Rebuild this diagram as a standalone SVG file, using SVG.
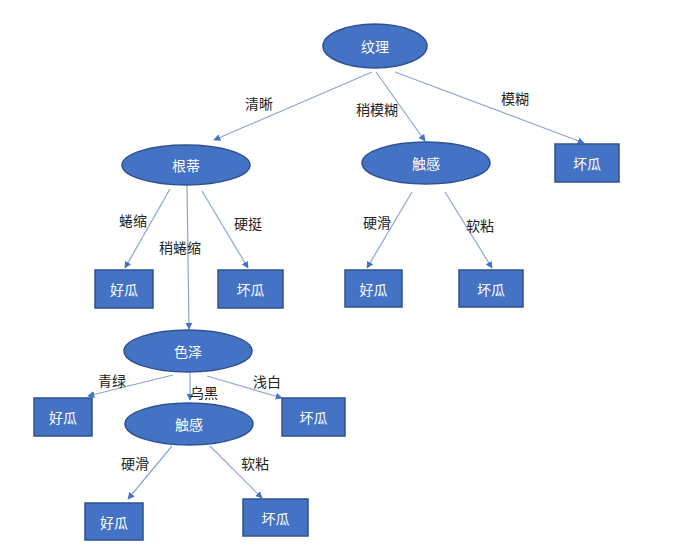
<svg xmlns="http://www.w3.org/2000/svg" width="684" height="550" viewBox="0 0 684 550">
<defs>
<style>
.n{fill:#4472C4;stroke:#2F528F;stroke-width:1.5}
.t{fill:#fff;font-family:"Noto Sans CJK SC","Noto Sans",sans-serif;font-size:14px;text-anchor:middle;dominant-baseline:central}
.l{fill:#222;font-family:"Noto Sans CJK SC","Noto Sans",sans-serif;font-size:14px;text-anchor:middle;dominant-baseline:central}
.e{stroke:#8EA5CF;stroke-width:1.2;fill:none;marker-end:url(#a)}
</style>
<marker id="a" viewBox="0 0 10 10" refX="9" refY="5" markerWidth="7" markerHeight="7" orient="auto" markerUnits="userSpaceOnUse">
<path d="M0,0 L10,5 L0,10 z" fill="#4472C4"/>
</marker>
</defs>
<rect width="684" height="550" fill="#fff"/>
<g id="connectors">
<line class="e" x1="372" y1="72" x2="214" y2="140"/>
<line class="e" x1="376" y1="72" x2="425" y2="141"/>
<line class="e" x1="395" y1="72" x2="584" y2="143"/>
<line class="e" x1="170" y1="189" x2="125" y2="268"/>
<line class="e" x1="187" y1="185" x2="189" y2="329"/>
<line class="e" x1="202" y1="191" x2="248" y2="268"/>
<line class="e" x1="412" y1="192" x2="367" y2="268"/>
<line class="e" x1="445" y1="192" x2="492" y2="268"/>
<line class="e" x1="173" y1="375" x2="88" y2="396"/>
<line class="e" x1="190" y1="373" x2="190" y2="400"/>
<line class="e" x1="207" y1="376" x2="282" y2="398"/>
<line class="e" x1="172" y1="446" x2="128" y2="499"/>
<line class="e" x1="210" y1="446" x2="262" y2="498"/>
</g>
<g id="edge-labels">
<text class="l" x="259" y="103">清晰</text>
<text class="l" x="377" y="109">稍模糊</text>
<text class="l" x="515" y="98">模糊</text>
<text class="l" x="133" y="220">蜷缩</text>
<text class="l" x="180" y="247">稍蜷缩</text>
<text class="l" x="248" y="223">硬挺</text>
<text class="l" x="377" y="222">硬滑</text>
<text class="l" x="480" y="225">软粘</text>
<text class="l" x="112" y="380">青绿</text>
<text class="l" x="204" y="392">乌黑</text>
<text class="l" x="267" y="381">浅白</text>
<text class="l" x="135" y="463">硬滑</text>
<text class="l" x="255" y="463">软粘</text>
</g>
<g id="n-wenli"><ellipse class="n" cx="375" cy="46" rx="52" ry="22"/><text class="t" x="375" y="46">纹理</text></g>
<g id="n-gendi"><ellipse class="n" cx="186" cy="165" rx="64" ry="20"/><text class="t" x="186" y="165">根蒂</text></g>
<g id="n-chugan1"><ellipse class="n" cx="426" cy="163" rx="64" ry="21"/><text class="t" x="426" y="163">触感</text></g>
<g id="n-bad1"><rect class="n" x="555" y="144" width="64" height="38"/><text class="t" x="587" y="163">坏瓜</text></g>
<g id="n-good1"><rect class="n" x="95" y="270" width="58" height="38"/><text class="t" x="124" y="289">好瓜</text></g>
<g id="n-bad2"><rect class="n" x="218" y="270" width="65" height="38"/><text class="t" x="250.5" y="289">坏瓜</text></g>
<g id="n-good2"><rect class="n" x="345" y="270" width="57" height="37"/><text class="t" x="373.5" y="288.5">好瓜</text></g>
<g id="n-bad3"><rect class="n" x="459" y="270" width="64" height="37"/><text class="t" x="491" y="288.5">坏瓜</text></g>
<g id="n-seze"><ellipse class="n" cx="188" cy="351" rx="64" ry="21"/><text class="t" x="188" y="351">色泽</text></g>
<g id="n-good3"><rect class="n" x="34" y="398" width="58" height="38"/><text class="t" x="63" y="417">好瓜</text></g>
<g id="n-bad4"><rect class="n" x="282" y="398" width="63" height="38"/><text class="t" x="313.5" y="417">坏瓜</text></g>
<g id="n-chugan2"><ellipse class="n" cx="189" cy="424" rx="64" ry="21"/><text class="t" x="189" y="424">触感</text></g>
<g id="n-good4"><rect class="n" x="85" y="503" width="58" height="37"/><text class="t" x="114" y="521.5">好瓜</text></g>
<g id="n-bad5"><rect class="n" x="243" y="499" width="65" height="37"/><text class="t" x="275.5" y="517.5">坏瓜</text></g>
</svg>
